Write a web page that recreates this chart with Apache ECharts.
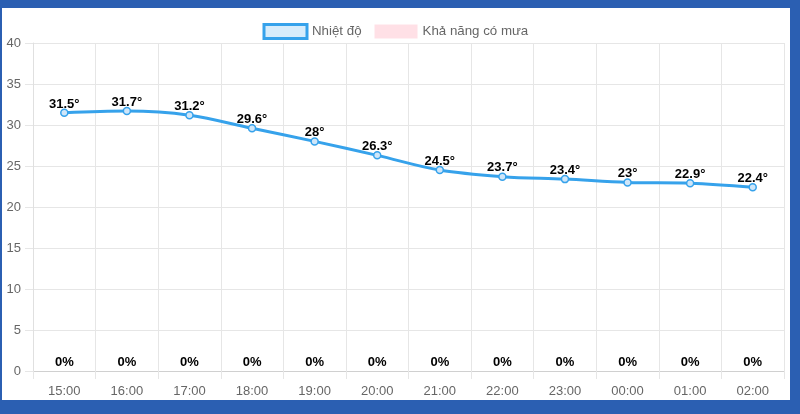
<!DOCTYPE html>
<html>
<head>
<meta charset="utf-8">
<script src="https://cdn.jsdelivr.net/npm/echarts@6/dist/echarts.min.js"></script>
<style>
html,body{margin:0;padding:0;width:800px;height:414px;background:#2b5fb2;overflow:hidden;}
#panel{position:absolute;left:2px;top:8px;width:788px;height:392px;background:#fff;}
#chart{position:absolute;left:0;top:0;width:800px;height:414px;}
</style>
</head>
<body>
<div id="panel"></div>
<div id="chart"></div>
<script>
var hours = ['15:00','16:00','17:00','18:00','19:00','20:00','21:00','22:00','23:00','00:00','01:00','02:00'];
var temperature = [31.5, 31.7, 31.2, 29.6, 28, 26.3, 24.5, 23.7, 23.4, 23, 22.9, 22.4];
var rainChance = [0, 0, 0, 0, 0, 0, 0, 0, 0, 0, 0, 0];
var tempTicks = {min: 0, max: 40, interval: 5};

var font = 'Liberation Sans, Arial, Helvetica, sans-serif';
var chart = echarts.init(document.getElementById('chart'), null, {renderer: 'canvas'});
chart.setOption({
  backgroundColor: 'transparent',
  animation: false,
  textStyle: {fontFamily: font},
  legend: {
    top: 18,
    left: 257.5,
    itemWidth: 43,
    itemHeight: 14,
    itemGap: 13,
    textStyle: {color: '#666', fontSize: 13.3, fontFamily: font},
    data: [
      {name: 'Nhiệt độ', icon: 'rect', itemStyle: {color: 'rgba(54,162,235,0.2)', borderColor: '#36a2eb', borderWidth: 3}},
      {name: 'Khả năng có mưa', icon: 'rect', itemStyle: {color: 'rgba(255,99,132,0.2)', borderWidth: 0}}
    ]
  },
  grid: {left: 33, right: 16, top: 43, bottom: 43, containLabel: false},
  xAxis: {
    type: 'category',
    data: hours,
    boundaryGap: true,
    axisLine: {show: true, lineStyle: {color: '#d0d0d0', width: 1}},
    axisTick: {show: true, length: 8, lineStyle: {color: '#e6e6e6'}},
    axisLabel: {color: '#666', fontSize: 13, margin: 14, fontFamily: font},
    splitLine: {show: true, lineStyle: {color: '#e6e6e6', width: 1}}
  },
  yAxis: [{
    type: 'value',
    min: tempTicks.min,
    max: tempTicks.max,
    interval: tempTicks.interval,
    axisLine: {show: true, lineStyle: {color: '#e0e0e0'}},
    axisTick: {show: true, length: 8, lineStyle: {color: '#e6e6e6'}},
    axisLabel: {color: '#666', fontSize: 13, margin: 12, fontFamily: font},
    splitLine: {show: true, lineStyle: {color: '#e6e6e6', width: 1}}
  }, {
    type: 'value',
    min: 0,
    max: 100,
    show: false,
    splitLine: {show: false}
  }],
  series: [{
    name: 'Nhiệt độ',
    type: 'line',
    data: temperature,
    smooth: 0.35,
    symbol: 'circle',
    symbolSize: 7,
    lineStyle: {color: '#36a2eb', width: 3},
    itemStyle: {color: '#cfe6f9', borderColor: '#36a2eb', borderWidth: 1.5},
    label: {
      show: true,
      position: 'top',
      distance: -2,
      formatter: function (p) { return p.value + '°'; },
      color: '#000',
      fontWeight: 'bold',
      fontSize: 13,
      fontFamily: font
    },
    z: 3
  }, {
    name: 'Khả năng có mưa',
    type: 'bar',
    yAxisIndex: 1,
    data: rainChance,
    barWidth: '80%',
    itemStyle: {color: 'rgba(255,99,132,0.2)'},
    label: {
      show: true,
      position: 'top',
      distance: 2,
      formatter: function (p) { return p.value + '%'; },
      color: '#000',
      fontWeight: 'bold',
      fontSize: 13,
      fontFamily: font
    },
    z: 2
  }]
});
</script>
</body>
</html>
